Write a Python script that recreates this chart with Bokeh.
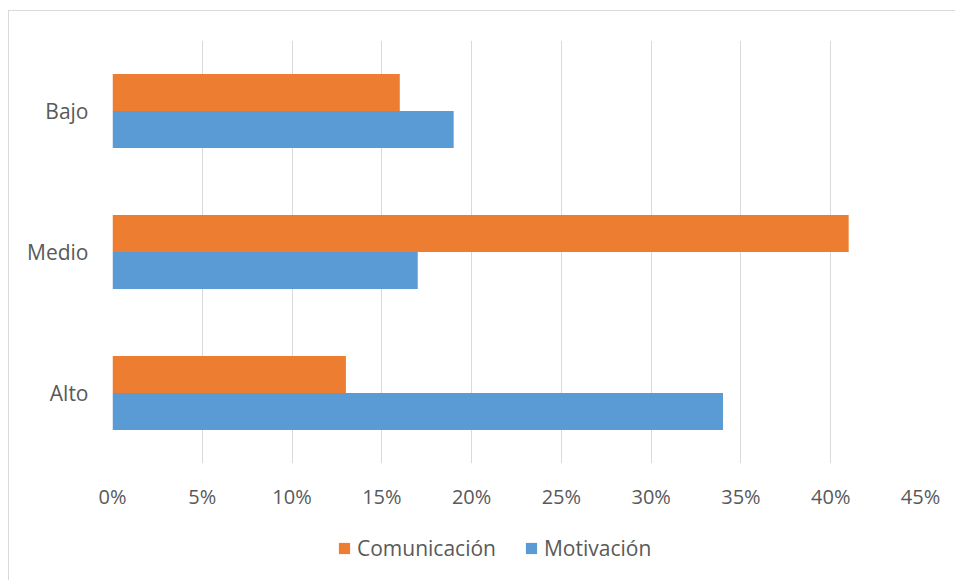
from bokeh.plotting import figure
from bokeh.layouts import column
from bokeh.models import (FactorRange, Range1d, FixedTicker, NumeralTickFormatter, Legend,
                          LegendItem, ColumnDataSource)
from bokeh.transform import dodge
from bokeh.embed import file_html
from bokeh.resources import INLINE

categories = ["Alto", "Medio", "Bajo"]
comunicacion = [0.13, 0.41, 0.16]
motivacion = [0.34, 0.17, 0.19]
x_ticks = [0, 0.05, 0.10, 0.15, 0.20, 0.25, 0.30, 0.35, 0.40, 0.45]
series_names = ["Comunicación", "Motivación"]
series_cols = ["com", "mot"]
series_colors = ["#ED7D31", "#5B9BD5"]

src = ColumnDataSource(dict(cat=categories, com=comunicacion, mot=motivacion))

FONT = "Open Sans"
TXT = "#595959"

p = figure(width=946, height=510, y_range=FactorRange(*categories, range_padding=0),
           x_range=Range1d(0, 0.45), output_backend="svg", toolbar_location=None,
           min_border_left=103, min_border_right=35, min_border_top=29, min_border_bottom=58)
p.outline_line_color = None

bw = 0.2625
p.hbar(y=dodge("cat", 0.13125, range=p.y_range), right="com", left=0, height=bw,
       source=src, color=series_colors[0], line_color=None)
p.hbar(y=dodge("cat", -0.13125, range=p.y_range), right="mot", left=0, height=bw,
       source=src, color=series_colors[1], line_color=None)

p.xaxis.ticker = FixedTicker(ticks=x_ticks)
p.xaxis.formatter = NumeralTickFormatter(format="0%")
for ax in (p.xaxis[0], p.yaxis[0]):
    ax.axis_line_color = None
    ax.major_tick_line_color = None
    ax.minor_tick_line_color = None
    ax.major_tick_out = 0
    ax.major_tick_in = 0
    ax.major_label_text_font = FONT
    ax.major_label_text_color = TXT
p.xaxis.major_label_text_font_size = "20px"
p.yaxis.major_label_text_font_size = "21px"
p.xaxis.major_label_standoff = 19
p.yaxis.major_label_standoff = 24

p.xgrid.ticker = FixedTicker(ticks=x_ticks)
p.xgrid.grid_line_color = "#d9d9d9"
p.xgrid.grid_line_width = 1
p.ygrid.grid_line_color = None

# legend strip (its renderers fall outside its visible range; they only supply legend swatches)
pl = figure(width=946, height=59, x_range=Range1d(0, 1), y_range=Range1d(10, 11),
            output_backend="svg", toolbar_location=None,
            min_border_left=103, min_border_right=35, min_border_top=0, min_border_bottom=0,
            x_axis_location=None, y_axis_location=None)
pl.outline_line_color = None
pl.grid.visible = False
items = []
for name, colname, col in zip(series_names, series_cols, series_colors):
    r = pl.hbar(y=colname, right=colname, left=0, height=0.01, source=src,
                color=col, line_color=None)
    items.append(LegendItem(label=name, renderers=[r]))
legend = Legend(items=items, orientation="horizontal", location=(225, 18),
                glyph_width=14, glyph_height=14, label_standoff=6, spacing=28,
                padding=0, margin=0, border_line_color=None, background_fill_alpha=0,
                label_text_font=FONT, label_text_font_size="21px", label_text_color=TXT)
pl.add_layout(legend, "center")

layout = column(p, pl, spacing=0,
                styles={"margin-left": "8px", "margin-top": "10px",
                        "border-left": "1px solid #d9d9d9", "border-top": "1px solid #d9d9d9"})

open("out.html", "w").write(file_html(layout, INLINE))
